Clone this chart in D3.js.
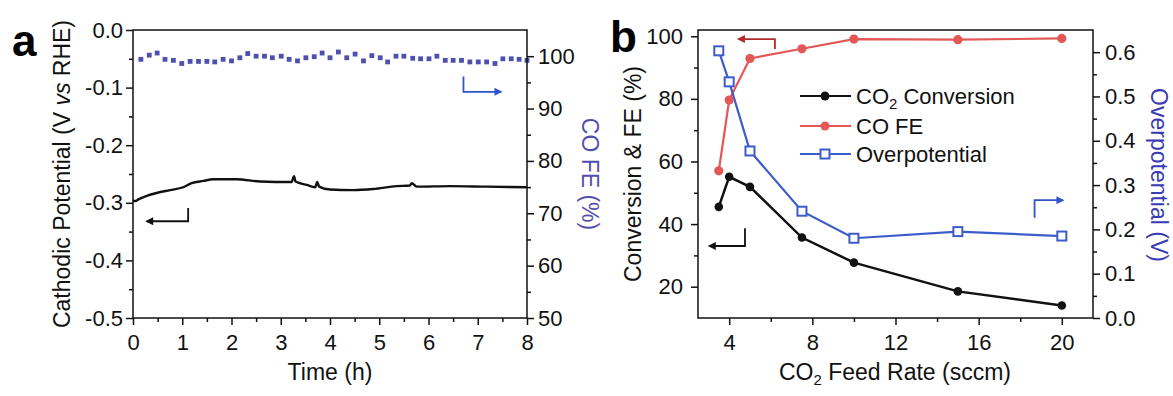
<!DOCTYPE html>
<html>
<head>
<meta charset="utf-8">
<script src="https://cdn.jsdelivr.net/npm/d3@7"></script>
<style>
  body { margin: 0; background: #fff; }
  text { font-family: Arial, "Liberation Sans", sans-serif; }
</style>
</head>
<body>
<script>
// ---- panel a: stability test ----
const timeH = [0.00, 0.05, 0.11, 0.28, 0.48, 0.75, 1.02, 1.19, 1.43, 1.63, 2.10, 2.58, 3.22, 3.27, 3.30, 3.53,
  3.70, 3.74, 3.78, 4.00, 4.47, 4.88, 5.35, 5.62, 5.66, 5.76, 6.44, 7.18, 8.00];
const potential = [-0.296, -0.297, -0.294, -0.288, -0.283, -0.278, -0.273, -0.266, -0.262, -0.259, -0.259, -0.263,
  -0.264, -0.254, -0.263, -0.269, -0.273, -0.264, -0.272, -0.277, -0.278, -0.276, -0.271, -0.270, -0.266,
  -0.272, -0.271, -0.272, -0.273];
const feTime = [0.16, 0.33, 0.49, 0.65, 0.82, 0.99, 1.16, 1.33, 1.50, 1.66, 1.83, 2.00, 2.17, 2.33, 2.50, 2.67,
  2.83, 3.01, 3.17, 3.34, 3.51, 3.68, 3.84, 4.00, 4.17, 4.34, 4.51, 4.68, 4.85, 5.02, 5.17, 5.34, 5.50, 5.68,
  5.84, 6.01, 6.17, 6.34, 6.50, 6.67, 6.84, 7.01, 7.18, 7.35, 7.51, 7.68, 7.84, 8.00];
const feValue = [99.4, 100.2, 100.6, 99.4, 99.2, 98.6, 99.0, 99.0, 99.0, 98.9, 99.4, 99.1, 99.7, 100.5, 100.0,
  100.0, 99.7, 100.0, 99.4, 99.1, 99.7, 99.9, 100.6, 99.7, 100.8, 99.7, 100.4, 99.1, 100.1, 99.7, 98.9, 100.0,
  100.0, 99.6, 99.5, 99.5, 100.0, 99.2, 99.2, 99.2, 98.9, 98.9, 98.9, 98.6, 99.5, 99.5, 99.4, 99.2];
const timeTicks = [0, 1, 2, 3, 4, 5, 6, 7, 8];
const potentialTicks = [-0.5, -0.4, -0.3, -0.2, -0.1, 0];
const feTicks = [50, 60, 70, 80, 90, 100];

// ---- panel b: feed rate series ----
const feedRate = [3.5, 4, 5, 7.5, 10, 15, 20];
const conversion = [45.5, 55.1, 51.9, 35.7, 27.7, 18.5, 14.0];
const coFE = [57.0, 79.6, 92.9, 96.0, 99.1, 98.9, 99.3];
const overpotential = [0.603, 0.533, 0.377, 0.241, 0.180, 0.195, 0.185];
const rateTicks = [4, 8, 12, 16, 20];
const percentTicks = [20, 40, 60, 80, 100];
const overTicks = [0, 0.1, 0.2, 0.3, 0.4, 0.5, 0.6];

const FS_TICK = 22, FS_TITLE = 23;
const red = '#e35757', blue = '#3c5ccb', feBlue = '#4f4fb0', axisBlue = '#3a3ab4';

const svg = d3.select('body').append('svg').attr('width', 1173).attr('height', 396);

const defs = svg.append('defs');
function arrowMarker(id, color) {
  defs.append('marker').attr('id', id)
    .attr('viewBox', '0 0 10 10').attr('refX', 8).attr('refY', 5)
    .attr('markerWidth', 9).attr('markerHeight', 8).attr('markerUnits', 'userSpaceOnUse')
    .attr('orient', 'auto')
    .append('path').attr('d', 'M0,0 L10,5 L0,10 z').attr('fill', color);
}
arrowMarker('ah-black', '#111');
arrowMarker('ah-blue', '#2f55c8');
arrowMarker('ah-red', '#b32a2a');

function axis(g, gen, ticks, size, pad, fmt) {
  const a = g.append('g').call(gen.tickValues(ticks).tickSize(size).tickSizeOuter(0).tickPadding(pad).tickFormat(fmt));
  a.select('.domain').remove();
  a.selectAll('line').attr('stroke', '#111').attr('stroke-width', 1.5);
  a.selectAll('text').attr('font-size', FS_TICK).attr('fill', '#111');
  return a;
}

function frame(x, y) {
  const [x0, x1] = x.range(), [y0, y1] = y.range();
  svg.append('rect').attr('x', x0).attr('y', y1).attr('width', x1 - x0).attr('height', y0 - y1)
    .attr('fill', 'none').attr('stroke', '#111').attr('stroke-width', 1.5);
}

function bentArrow(pts, marker, color) {
  svg.append('path').attr('d', d3.line()(pts)).attr('fill', 'none')
    .attr('stroke', color).attr('stroke-width', 1.8).attr('marker-end', `url(#${marker})`);
}

// ================= panel a =================
const xA = d3.scaleLinear().domain([0, 8]).range([133, 527]);
const yA = d3.scaleLinear().domain([-0.5, 0]).range([318, 30]);
const yA2 = d3.scaleLinear().domain([50, 105]).range([318, 30]);

const ga = svg.append('g');
axis(ga.append('g').attr('transform', 'translate(0,318)'), d3.axisBottom(xA), timeTicks, 7, 9, d3.format('d'));
axis(ga.append('g').attr('transform', 'translate(0,318)'), d3.axisBottom(xA), d3.range(0.5, 8, 1), 4, 0, '');
axis(ga.append('g').attr('transform', 'translate(133,0)'), d3.axisLeft(yA), potentialTicks, 7, 3, d => d.toFixed(1));
axis(ga.append('g').attr('transform', 'translate(133,0)'), d3.axisLeft(yA), [-0.45, -0.35, -0.25, -0.15, -0.05], 4, 0, '');
axis(ga.append('g').attr('transform', 'translate(527,0)'), d3.axisRight(yA2), feTicks, 7, 4, d3.format('d'));
axis(ga.append('g').attr('transform', 'translate(527,0)'), d3.axisRight(yA2), [55, 65, 75, 85, 95], 4, 0, '');
frame(xA, yA);

ga.append('path').datum(timeH.map((t, i) => [t, potential[i]]))
  .attr('d', d3.line().x(d => xA(d[0])).y(d => yA(d[1])).curve(d3.curveMonotoneX))
  .attr('fill', 'none').attr('stroke', '#111').attr('stroke-width', 2.4);

ga.selectAll('rect.fe').data(feTime.map((t, i) => [t, feValue[i]])).enter().append('rect')
  .attr('class', 'fe')
  .attr('x', d => xA(d[0]) - 2.4).attr('y', d => yA2(d[1]) - 2.4)
  .attr('width', 4.8).attr('height', 4.8).attr('fill', feBlue);

bentArrow([[xA(1.12), yA(-0.309)], [xA(1.12), yA(-0.332)], [xA(0.28), yA(-0.332)]], 'ah-black', '#111');
bentArrow([[xA(6.71), yA2(96.1)], [xA(6.71), yA2(93.2)], [xA(7.47), yA2(93.2)]], 'ah-blue', '#2f55c8');

svg.append('text').attr('x', 12).attr('y', 56).attr('font-size', 44).attr('font-weight', 'bold').text('a');

svg.append('text').attr('transform', 'translate(70,174) rotate(-90)').attr('text-anchor', 'middle')
  .attr('font-size', FS_TITLE).attr('fill', '#111')
  .call(t => {
    t.append('tspan').text('Cathodic Potential (V ');
    t.append('tspan').attr('font-style', 'italic').text('vs');
    t.append('tspan').text(' RHE)');
  });
svg.append('text').attr('transform', 'translate(582,174) rotate(90)').attr('text-anchor', 'middle')
  .attr('font-size', FS_TITLE).attr('fill', feBlue).text('CO FE (%)');
svg.append('text').attr('x', 330).attr('y', 380).attr('text-anchor', 'middle')
  .attr('font-size', FS_TITLE).attr('fill', '#111').text('Time (h)');

// ================= panel b =================
const xB = d3.scaleLinear().domain([2.5, 21.5]).range([698, 1093]);
const yB = d3.scaleLinear().domain([10, 102]).range([318, 30]);
const yB2 = d3.scaleLinear().domain([0, 0.65]).range([318, 30]);

const gb = svg.append('g');
axis(gb.append('g').attr('transform', 'translate(0,318)'), d3.axisBottom(xB), rateTicks, 7, 9, d3.format('d'));
axis(gb.append('g').attr('transform', 'translate(0,318)'), d3.axisBottom(xB), [6, 10, 14, 18], 4, 0, '');
axis(gb.append('g').attr('transform', 'translate(698,0)'), d3.axisLeft(yB), percentTicks, 7, 8, d3.format('d'));
axis(gb.append('g').attr('transform', 'translate(698,0)'), d3.axisLeft(yB), [30, 50, 70, 90], 4, 0, '');
axis(gb.append('g').attr('transform', 'translate(1093,0)'), d3.axisRight(yB2), overTicks, 7, 5, d3.format('.1f'));
axis(gb.append('g').attr('transform', 'translate(1093,0)'), d3.axisRight(yB2), [0.05, 0.15, 0.25, 0.35, 0.45, 0.55], 4, 0, '');
frame(xB, yB);

const lineB = y => d3.line().x((d, i) => xB(feedRate[i])).y(d => y(d));

gb.append('path').datum(conversion).attr('d', lineB(yB)).attr('fill', 'none').attr('stroke', '#111').attr('stroke-width', 2.5);
gb.append('path').datum(coFE).attr('d', lineB(yB)).attr('fill', 'none').attr('stroke', red).attr('stroke-width', 2.2);
gb.append('path').datum(overpotential).attr('d', lineB(yB2)).attr('fill', 'none').attr('stroke', blue).attr('stroke-width', 2.2);

gb.selectAll('circle.conv').data(conversion).enter().append('circle').attr('class', 'conv')
  .attr('cx', (d, i) => xB(feedRate[i])).attr('cy', d => yB(d)).attr('r', 4.3).attr('fill', '#111');
gb.selectAll('circle.fe').data(coFE).enter().append('circle').attr('class', 'fe')
  .attr('cx', (d, i) => xB(feedRate[i])).attr('cy', d => yB(d)).attr('r', 4.6).attr('fill', red);
gb.selectAll('rect.op').data(overpotential).enter().append('rect').attr('class', 'op')
  .attr('x', (d, i) => xB(feedRate[i]) - 4.5).attr('y', d => yB2(d) - 4.5)
  .attr('width', 9).attr('height', 9).attr('fill', '#fff').attr('stroke', blue).attr('stroke-width', 2);

bentArrow([[xB(6.2), yB(95.9)], [xB(6.2), yB(99.1)], [xB(4.45), yB(99.1)]], 'ah-red', '#b32a2a');
bentArrow([[xB(4.76), yB(38.7)], [xB(4.76), yB(33.0)], [xB(3.05), yB(33.0)]], 'ah-black', '#111');
bentArrow([[xB(18.69), yB2(0.226)], [xB(18.69), yB2(0.266)], [xB(20.05), yB2(0.266)]], 'ah-blue', '#2f55c8');

// legend
const legend = [
  { name: ['CO', '2', ' Conversion'], color: '#111', mark: 'circle' },
  { name: ['CO FE'], color: red, mark: 'circle' },
  { name: ['Overpotential'], color: blue, mark: 'square' }
];
const lg = gb.append('g');
legend.forEach((s, i) => {
  const y = [96, 126, 154][i];
  lg.append('line').attr('x1', 800).attr('x2', 851).attr('y1', y).attr('y2', y)
    .attr('stroke', s.color).attr('stroke-width', 2.2);
  if (s.mark === 'circle') {
    lg.append('circle').attr('cx', 825).attr('cy', y).attr('r', 4.5).attr('fill', s.color);
  } else {
    lg.append('rect').attr('x', 820.5).attr('y', y - 4.5).attr('width', 9).attr('height', 9)
      .attr('fill', '#fff').attr('stroke', s.color).attr('stroke-width', 2);
  }
  const t = lg.append('text').attr('x', 856).attr('y', y + 8).attr('font-size', 22).attr('fill', '#111');
  t.append('tspan').text(s.name[0]);
  if (s.name.length > 1) {
    t.append('tspan').attr('font-size', 15).attr('dy', 5).text(s.name[1]);
    t.append('tspan').attr('dy', -5).text(s.name[2]);
  }
});

svg.append('text').attr('x', 610).attr('y', 52).attr('font-size', 44).attr('font-weight', 'bold').text('b');

svg.append('text').attr('transform', 'translate(641,174) rotate(-90)').attr('text-anchor', 'middle')
  .attr('font-size', FS_TITLE).attr('fill', '#111').text('Conversion & FE (%)');
svg.append('text').attr('transform', 'translate(1151,175) rotate(90)').attr('text-anchor', 'middle')
  .attr('font-size', FS_TITLE).attr('fill', axisBlue).text('Overpotential (V)');
svg.append('text').attr('x', 895).attr('y', 380).attr('text-anchor', 'middle')
  .attr('font-size', FS_TITLE).attr('fill', '#111')
  .call(t => {
    t.append('tspan').text('CO');
    t.append('tspan').attr('font-size', 15).attr('dy', 5).text('2');
    t.append('tspan').attr('dy', -5).text(' Feed Rate (sccm)');
  });
</script>
</body>
</html>
